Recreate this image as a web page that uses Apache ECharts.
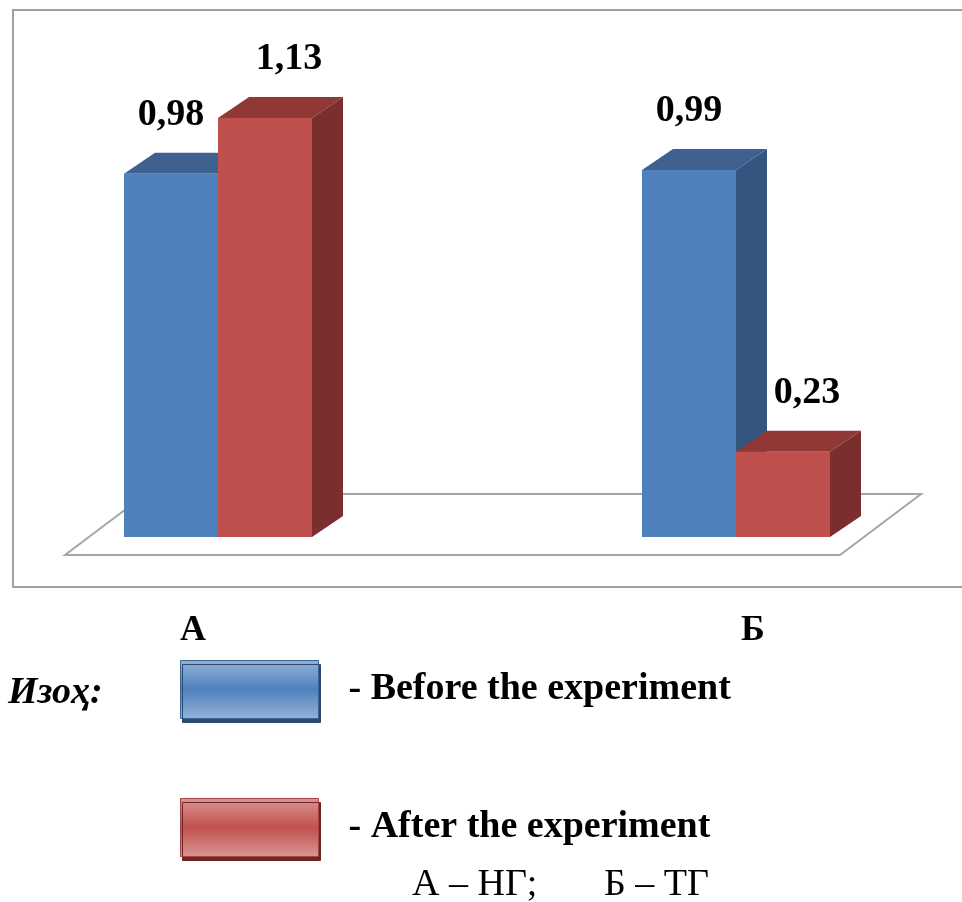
<!DOCTYPE html>
<html>
<head>
<meta charset="utf-8">
<script src="https://cdn.jsdelivr.net/npm/echarts@6/dist/echarts.min.js"></script>
<style>
html,body{margin:0;padding:0;background:#fff}
#chart{width:962px;height:902px}
</style>
</head>
<body>
<div id="chart"></div>
<script>
"use strict";

// 数据
var categories = ['А', 'Б'];
var beforeValues = [0.98, 0.99];
var afterValues = [1.13, 0.23];
var seriesNames = ['Before the experiment', 'After the experiment'];

var SERIF = '"Liberation Serif", "Times New Roman", serif';
var BAR_W = 94;     // 柱宽
var DX = 31, DY = -21;  // 3D 深度

var blue = {front: '#4F81BD', top: '#3E6190', side: '#34557D'};
var red = {front: '#C0504D', top: '#913836', side: '#7B2E2E'};

function fmt(v) {
    return v.toFixed(2).replace('.', ',');
}

// 3D 柱子
function makeBar(side, col, labelShift) {
    return function (params, api) {
        var cat = api.value(0);
        var val = api.value(1);
        var base = api.coord([cat, 0]);
        var top = api.coord([cat, val]);
        var x0 = side === 0 ? base[0] - BAR_W : base[0];
        var x1 = x0 + BAR_W;
        var y0 = top[1], y1 = base[1];
        return {
            type: 'group',
            children: [
                {type: 'polygon', shape: {points: [[x1, y0], [x1 + DX, y0 + DY], [x1 + DX, y1 + DY], [x1, y1]]},
                    style: {fill: col.side}},
                {type: 'polygon', shape: {points: [[x0, y0], [x0 + DX, y0 + DY], [x1 + DX, y0 + DY], [x1, y0]]},
                    style: {fill: col.top}},
                {type: 'rect', shape: {x: x0, y: y0, width: BAR_W, height: y1 - y0},
                    style: {fill: col.front}},
                {type: 'text', style: {
                    text: fmt(val), x: (x0 + x1) / 2 + labelShift, y: y0 - 59,
                    align: 'center', verticalAlign: 'middle',
                    font: 'bold 38px ' + SERIF, fill: '#000'}}
            ]
        };
    };
}

// 底面
function renderFloor(params, api) {
    var a = api.coord([0, 0]);
    var b = api.coord([1, 0]);
    var yf = a[1] + 18, yb = a[1] - 43;
    return {
        type: 'polygon',
        shape: {points: [[a[0] - 153, yf], [b[0] + 104, yf], [b[0] + 185, yb], [a[0] - 72, yb]]},
        style: {fill: '#fff', stroke: '#a6a6a6', lineWidth: 2}
    };
}

function swatch(c1, c2, border, shadow) {
    return {
        color: new echarts.graphic.LinearGradient(0, 0, 0, 1, [
            {offset: 0, color: c1}, {offset: 0.5, color: c2}, {offset: 1, color: c1}
        ]),
        borderColor: border, borderWidth: 1,
        shadowColor: shadow, shadowOffsetX: 2, shadowOffsetY: 4, shadowBlur: 0
    };
}

var labelFont = {fontFamily: SERIF, fontWeight: 'bold', fontSize: 36, color: '#000'};

var myChart = echarts.init(document.getElementById('chart'));
var option = {
    backgroundColor: '#fff',
    animation: false,
    grid: {left: 218, right: 226, top: 18, bottom: 365},
    xAxis: {
        type: 'category',
        data: categories,
        boundaryGap: false,
        axisLine: {show: false},
        axisTick: {show: false},
        splitLine: {show: false},
        axisLabel: {
            margin: 76,
            fontFamily: SERIF, fontWeight: 'bold', fontSize: 36, color: '#000',
            formatter: function (v, i) { return i === 0 ? '{a|' + v + '}' : '{b|' + v + '}'; },
            rich: {
                a: Object.assign({padding: [0, 50, 0, 0]}, labelFont),
                b: Object.assign({padding: [0, 0, 0, 34]}, labelFont)
            }
        }
    },
    yAxis: {type: 'value', min: 0, max: 1.4, show: false, splitLine: {show: false}},
    legend: {
        orient: 'vertical',
        left: 175, top: 655,
        itemWidth: 138, itemHeight: 58, itemGap: 79,
        selectedMode: false,
        formatter: '- {name}',
        textStyle: {fontFamily: SERIF, fontWeight: 'bold', fontSize: 38, color: '#000', padding: [0, 0, 0, 25]},
        data: [
            {name: seriesNames[0], icon: 'rect', itemStyle: swatch('#95B3D7', '#4F81BD', '#3A6494', '#2C4A70')},
            {name: seriesNames[1], icon: 'rect', itemStyle: swatch('#DA9694', '#C0504D', '#A54340', '#6E2624')}
        ]
    },
    graphic: [
        {type: 'rect', shape: {x: 13, y: 10, width: 1000, height: 577},
            style: {fill: 'none', stroke: '#a0a0a0', lineWidth: 2}, z: 0},
        {type: 'text', style: {text: 'Изоҳ:', x: 8, y: 693, verticalAlign: 'middle',
            font: 'italic bold 38px ' + SERIF, fill: '#000'}},
        {type: 'text', style: {text: 'А – НГ;       Б – ТГ', x: 412, y: 885, verticalAlign: 'middle',
            font: '38px ' + SERIF, fill: '#000'}}
    ],
    series: [
        {
            name: 'floor', type: 'custom', z: 1, silent: true,
            renderItem: renderFloor, data: [[0]]
        },
        {
            name: seriesNames[0], type: 'custom', z: 2,
            itemStyle: {color: blue.front},
            renderItem: makeBar(0, blue, 0),
            data: beforeValues.map(function (v, i) { return [i, v]; })
        },
        {
            name: seriesNames[1], type: 'custom', z: 3,
            itemStyle: {color: red.front},
            renderItem: makeBar(1, red, 24),
            data: afterValues.map(function (v, i) { return [i, v]; })
        }
    ]
};
myChart.setOption(option, true);
</script>
</body>
</html>
